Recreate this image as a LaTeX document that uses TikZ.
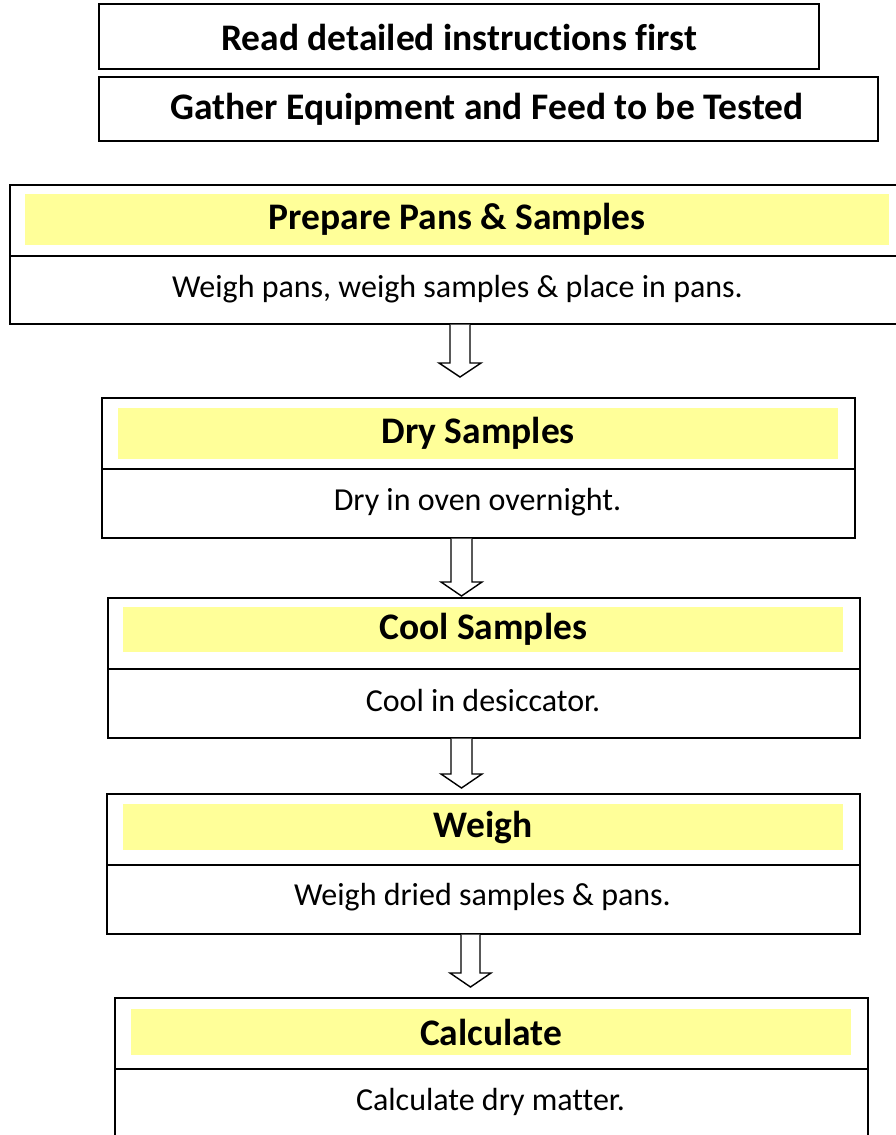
\documentclass[tikz,border=0pt]{standalone}
\usepackage{fontspec}
\setmainfont{Carlito}[Ligatures=NoCommon]
\usetikzlibrary{calc}
\definecolor{band}{HTML}{FFFF99}
\tikzset{
  frame/.style={draw=black, line width=1.6pt, rectangle, anchor=north west, inner sep=0pt},
  headband/.style={fill=band, rectangle, anchor=north west, inner sep=0pt,
    font=\fontsize{37.5}{44}\selectfont\bfseries},
  bodytext/.style={inner sep=0pt, font=\fontsize{32}{38}\selectfont},
  toptext/.style={inner sep=0pt, font=\fontsize{37.5}{44}\selectfont\bfseries},
  divider/.style={line width=1.6pt},
  hollow/.style={draw=black, fill=white, line width=1.4pt, line join=miter},
}
\begin{document}
\begin{tikzpicture}[x=1pt, y=-1pt]
\useasboundingbox (0,0) rectangle (896,1135);

% preliminary steps
\node[frame, minimum width=720pt, minimum height=65pt] (read) at (98,3) {};
\node[toptext] (readT) at (459,37) {Read detailed instructions first};
\node[frame, minimum width=779pt, minimum height=64pt] (gather) at (98,76) {};
\node[toptext] (gatherT) at (487,109) {Gather Equipment and Feed to be Tested};

% stage 1
\node[frame, minimum width=897pt, minimum height=139pt] (prep) at (9,184) {};
\node[headband, minimum width=864pt, minimum height=51pt] (prepT) at (25,194) {Prepare Pans \& Samples};
\draw[divider] ($(prep.north west)+(0,72)$) -- ($(prep.north east)+(0,72)$);
\node[bodytext] (prepB) at (457.5,289) {Weigh pans, weigh samples \& place in pans.};

% stage 2
\node[frame, minimum width=753pt, minimum height=140pt] (dry) at (101,397) {};
\node[headband, minimum width=720pt, minimum height=51pt] (dryT) at (118,408) {Dry Samples};
\draw[divider] ($(dry.north west)+(0,72)$) -- ($(dry.north east)+(0,72)$);
\node[bodytext] (dryB) at (477.5,502) {Dry in oven overnight.};

% stage 3
\node[frame, minimum width=752pt, minimum height=140pt] (cool) at (107,597) {};
\node[headband, minimum width=720pt, minimum height=45pt] (coolT) at (123,607) {Cool Samples};
\draw[divider] ($(cool.north west)+(0,72)$) -- ($(cool.north east)+(0,72)$);
\node[bodytext] (coolB) at (483,701) {Cool in desiccator.};

% stage 4
\node[frame, minimum width=753pt, minimum height=140pt] (weigh) at (106,793) {};
\node[headband, minimum width=720pt, minimum height=46pt] (weighT) at (123,804) {Weigh};
\draw[divider] ($(weigh.north west)+(0,72)$) -- ($(weigh.north east)+(0,72)$);
\node[bodytext] (weighB) at (482.5,897) {Weigh dried samples \& pans.};

% stage 5
\node[frame, minimum width=753pt, minimum height=150pt] (calc) at (114,997) {};
\node[headband, minimum width=720pt, minimum height=46pt] (calcT) at (131,1009) {Calculate};
\draw[divider] ($(calc.north west)+(0,72)$) -- ($(calc.north east)+(0,72)$);
\node[bodytext] (calcB) at (490.5,1102) {Calculate dry matter.};

% hollow arrows between the stages
\coordinate (tip1) at (460,377);
\draw[hollow] (prep.south -| 450,0) -- (450,363) -- (439,363) -- (tip1)
  -- (481,363) -- (470,363) -- (prep.south -| 470,0);
\coordinate (tip2) at (461.5,596);
\draw[hollow] (dry.south -| 451,0) -- (451,582) -- (441,582) -- (tip2)
  -- (482,582) -- (472,582) -- (dry.south -| 472,0);
\coordinate (tip3) at (461.5,788);
\draw[hollow] (cool.south -| 451,0) -- (451,774) -- (441,774) -- (tip3)
  -- (482,774) -- (472,774) -- (cool.south -| 472,0);
\coordinate (tip4) at (470.5,987);
\draw[hollow] (weigh.south -| 461,0) -- (461,973) -- (450,973) -- (tip4)
  -- (491,973) -- (480,973) -- (weigh.south -| 480,0);
\end{tikzpicture}
\end{document}
